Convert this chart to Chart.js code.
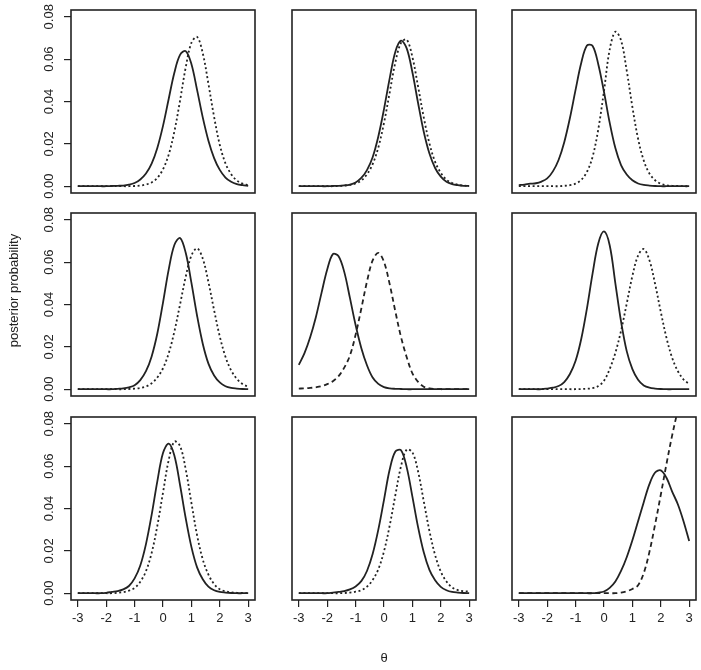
<!DOCTYPE html>
<html>
<head>
<meta charset="utf-8">
<script src="https://cdn.jsdelivr.net/npm/chart.js@4.4.0/dist/chart.umd.min.js"></script>
<style>
  html, body { margin: 0; padding: 0; background: #fff; }
  #wrap { position: relative; width: 701px; height: 670px; overflow: hidden; background: #fff; }
  #wrap .cell { position: absolute; }
</style>
</head>
<body>
<div id="wrap"></div>
<script>
// ========== DATA ==========
// theta grid, step 0.2
const theta = [-3.0, -2.8, -2.6, -2.4, -2.2, -2.0, -1.8, -1.6, -1.4, -1.2, -1.0, -0.8, -0.6, -0.4, -0.2,
  0.0, 0.2, 0.4, 0.6, 0.8, 1.0, 1.2, 1.4, 1.6, 1.8, 2.0, 2.2, 2.4, 2.6, 2.8, 3.0];
const xTicks = [-3, -2, -1, 0, 1, 2, 3];
const yTicks = [0, 0.02, 0.04, 0.06, 0.08];
const yTickLabels = ['0.00', '0.02', '0.04', '0.06', '0.08'];
const xTitle = 'θ';
const yTitle = 'posterior probability';

// row 1
const p11Solid = [0, 0, 0, 0, 0, 0, 0.0001, 0.0002, 0.0003, 0.0007, 0.0015, 0.0032, 0.006, 0.0107, 0.0181,
  0.0285, 0.0412, 0.0536, 0.062, 0.0638, 0.0577, 0.0455, 0.0325, 0.0215, 0.0133, 0.0077, 0.0041, 0.0021, 0.001, 0.0005, 0.0002];
const p11Dotted = [0, 0, 0, 0, 0, 0, 0, 0, 0, 0, 0.0001, 0.0003, 0.0008, 0.0018, 0.0039,
  0.008, 0.0149, 0.0258, 0.0404, 0.0561, 0.0677, 0.0705, 0.0628, 0.0483, 0.0327, 0.0195, 0.0108, 0.0057, 0.0027, 0.0012, 0.0005];
const p12Solid = [0, 0, 0, 0, 0, 0, 0.0001, 0.0002, 0.0004, 0.0008, 0.0018, 0.0039, 0.0076, 0.0137, 0.0235,
  0.0364, 0.0509, 0.0635, 0.0687, 0.0651, 0.0538, 0.0393, 0.0257, 0.0154, 0.0086, 0.0045, 0.0021, 0.001, 0.0005, 0.0002, 0.0001];
const p12Dotted = [0, 0, 0, 0, 0, 0, 0, 0.0001, 0.0003, 0.0006, 0.0013, 0.0027, 0.0056, 0.0104, 0.0183,
  0.0299, 0.0442, 0.0585, 0.0677, 0.0692, 0.061, 0.0471, 0.0325, 0.0202, 0.0115, 0.0063, 0.0031, 0.0015, 0.0007, 0.0003, 0.0001];
const p13Solid = [0.0005, 0.0008, 0.0012, 0.0014, 0.0022, 0.0037, 0.007, 0.0124, 0.0208, 0.0322, 0.0456, 0.0583, 0.0664, 0.0662, 0.0575,
  0.0445, 0.030, 0.018, 0.010, 0.0055, 0.0028, 0.0013, 0.0006, 0.0003, 0.0001, 0, 0, 0, 0, 0, 0];
const p13Dotted = [0, 0, 0, 0, 0, 0, 0, 0, 0.0002, 0.0005, 0.0012, 0.003, 0.0068, 0.014, 0.027,
  0.045, 0.0645, 0.0729, 0.0689, 0.0546, 0.0374, 0.0224, 0.0121, 0.006, 0.0028, 0.0012, 0.0005, 0.0002, 0.0001, 0, 0];

// row 2
const p21Solid = [0, 0, 0, 0, 0, 0, 0, 0.0002, 0.0004, 0.0009, 0.0019, 0.0043, 0.0085, 0.0155, 0.0263,
  0.0409, 0.0565, 0.0681, 0.0714, 0.0644, 0.0503, 0.0347, 0.0215, 0.0121, 0.0065, 0.0032, 0.0014, 0.0006, 0.0003, 0.0001, 0];
const p21Dotted = [0, 0, 0, 0, 0, 0, 0, 0, 0, 0.0001, 0.0003, 0.0006, 0.0013, 0.0028, 0.0055,
  0.0099, 0.0169, 0.0272, 0.040, 0.0531, 0.0631, 0.0665, 0.0617, 0.0506, 0.0373, 0.0249, 0.0153, 0.0089, 0.0049, 0.0025, 0.0012];
const p22Solid = [0.0115, 0.017, 0.0245, 0.034, 0.0455, 0.0565, 0.0638, 0.0628, 0.0554, 0.0431, 0.0303, 0.0195, 0.0113, 0.0055, 0.0025,
  0.001, 0.0004, 0.0002, 0.0001, 0, 0, 0, 0, 0, 0, 0, 0, 0, 0, 0, 0];
const p22Dashed = [0.0003, 0.0004, 0.0006, 0.0009, 0.0014, 0.0024, 0.0038, 0.0062, 0.0102, 0.0159, 0.0257, 0.038, 0.0508, 0.0608, 0.0644,
  0.0601, 0.0496, 0.0367, 0.0246, 0.0151, 0.0075, 0.0035, 0.0012, 0.0004, 0.0001, 0, 0, 0, 0, 0, 0];
const p23Solid = [0, 0, 0, 0, 0, 0.0003, 0.0007, 0.0015, 0.0034, 0.0072, 0.0134, 0.0238, 0.0382, 0.0548, 0.0689,
  0.0745, 0.068, 0.050, 0.032, 0.018, 0.0095, 0.0045, 0.0018, 0.0007, 0.0003, 0.0001, 0, 0, 0, 0, 0];
const p23Dotted = [0, 0, 0, 0, 0, 0, 0, 0, 0, 0, 0, 0.0001, 0.0002, 0.0005, 0.0015,
  0.004, 0.0095, 0.0172, 0.0276, 0.0404, 0.0535, 0.0631, 0.0662, 0.0609, 0.0497, 0.0365, 0.0243, 0.0148, 0.0086, 0.0046, 0.0025];

// row 3
const p31Solid = [0, 0, 0, 0, 0, 0.0002, 0.0006, 0.001, 0.0018, 0.0034, 0.007, 0.0131, 0.0232, 0.037, 0.0528,
  0.0662, 0.0706, 0.065, 0.0511, 0.0354, 0.0219, 0.0122, 0.0066, 0.0031, 0.0014, 0.0006, 0.0003, 0.0001, 0, 0, 0];
const p31Dotted = [0, 0, 0, 0, 0, 0, 0, 0.0002, 0.0005, 0.0012, 0.0025, 0.0054, 0.0104, 0.019, 0.0318,
  0.0475, 0.0628, 0.0716, 0.0695, 0.0585, 0.0427, 0.0274, 0.016, 0.0088, 0.0043, 0.0019, 0.0009, 0.0004, 0.0002, 0.0001, 0];
const p32Solid = [0, 0, 0, 0, 0, 0, 0.0003, 0.0006, 0.001, 0.0018, 0.0032, 0.0057, 0.0105, 0.0185, 0.030,
  0.0441, 0.0584, 0.0669, 0.0675, 0.0594, 0.0456, 0.0312, 0.0193, 0.011, 0.0061, 0.003, 0.0014, 0.0006, 0.0003, 0.0001, 0];
const p32Dotted = [0, 0, 0, 0, 0, 0, 0, 0, 0.0001, 0.0003, 0.0007, 0.0014, 0.0031, 0.0062, 0.0113,
  0.0198, 0.0319, 0.0463, 0.060, 0.0678, 0.0665, 0.0575, 0.0434, 0.0294, 0.018, 0.0102, 0.0055, 0.0027, 0.0015, 0.001, 0.0008];
const p33Solid = [0, 0, 0, 0, 0, 0, 0, 0, 0, 0, 0, 0, 0, 0, 0.0003,
  0.0008, 0.0025, 0.0055, 0.0105, 0.017, 0.025, 0.034, 0.043, 0.0515, 0.057, 0.058, 0.0545, 0.048, 0.042, 0.034, 0.0246];
const p33Dashed = [0, 0, 0, 0, 0, 0, 0, 0, 0, 0, 0, 0, 0, 0, 0,
  0, 0, 0, 0.0003, 0.0009, 0.002, 0.0038, 0.0095, 0.0195, 0.0325, 0.0465, 0.061, 0.0745, 0.0865, 0.098, 0.108];

// ========== LAYOUT ==========
const colX = [71, 292, 512];   // left edge of each plot box
const rowY = [10, 213, 417];   // top edge of each plot box
const boxW = 184, boxH = 183;
const yAxisW = 71, xAxisH = 70;
const pad = 14;                // room round each box so text is not cut
const ink = '#222';
const fontFamily = '"Liberation Sans", Arial, Helvetica, sans-serif';

const panels = [
  [p11Solid, p11Dotted, 'dot'], [p12Solid, p12Dotted, 'dot'], [p13Solid, p13Dotted, 'dot'],
  [p21Solid, p21Dotted, 'dot'], [p22Solid, p22Dashed, 'dash'], [p23Solid, p23Dotted, 'dot'],
  [p31Solid, p31Dotted, 'dot'], [p32Solid, p32Dotted, 'dot'], [p33Solid, p33Dashed, 'dash']
];

// box round the plot region
const boxPlugin = {
  id: 'box',
  afterDatasetsDraw(chart) {
    const a = chart.chartArea, ctx = chart.ctx;
    ctx.save();
    ctx.strokeStyle = ink;
    ctx.lineWidth = 1.6;
    ctx.strokeRect(a.left, a.top, a.right - a.left, a.bottom - a.top);
    ctx.restore();
  }
};

// y tick labels turned 90 degrees, like R's default
const yLabelPlugin = {
  id: 'yLabels',
  afterDraw(chart) {
    const s = chart.scales.y;
    if (!s.options.display) return;
    const ctx = chart.ctx;
    ctx.save();
    ctx.fillStyle = ink;
    ctx.font = '13px ' + fontFamily;
    ctx.textAlign = 'center';
    ctx.textBaseline = 'alphabetic';
    s.ticks.forEach((t, i) => {
      ctx.save();
      ctx.translate(chart.chartArea.left - 18, s.getPixelForValue(t.value));
      ctx.rotate(-Math.PI / 2);
      ctx.fillText(yTickLabels[i], 0, 0);
      ctx.restore();
    });
    ctx.restore();
  }
};

// outer y title, a little above the middle box centre (as R's mtext puts it)
const yTitlePlugin = {
  id: 'yTitle',
  afterDraw(chart, args, opts) {
    if (!opts.show) return;
    const a = chart.chartArea, ctx = chart.ctx;
    ctx.save();
    ctx.fillStyle = ink;
    ctx.font = '13px ' + fontFamily;
    ctx.textAlign = 'center';
    ctx.textBaseline = 'middle';
    ctx.translate(14, (a.top + a.bottom) / 2 - 14);
    ctx.rotate(-Math.PI / 2);
    ctx.fillText(yTitle, 0, 0);
    ctx.restore();
  }
};

const wrap = document.getElementById('wrap');

panels.forEach(([solid, other, style], k) => {
  const r = Math.floor(k / 3), c = k % 3;
  const padL = c === 0 ? 0 : pad;
  const padB = r === 2 ? 0 : pad;
  const left = c === 0 ? 0 : colX[c] - pad;
  const top = rowY[r] - pad;
  const w = (c === 0 ? yAxisW : pad) + boxW + pad;
  const h = pad + boxH + (r === 2 ? xAxisH : pad);

  const cell = document.createElement('div');
  cell.className = 'cell';
  cell.style.left = left + 'px'; cell.style.top = top + 'px';
  cell.style.width = w + 'px'; cell.style.height = h + 'px';
  const cv = document.createElement('canvas');
  cell.appendChild(cv);
  wrap.appendChild(cell);

  const lineSet = (vals, dash) => ({
    data: theta.map((t, i) => ({ x: t, y: vals[i] })),
    borderColor: ink,
    borderWidth: 1.8,
    borderDash: dash || [],
    pointRadius: 0,
    fill: false,
    tension: 0.35
  });

  new Chart(cv.getContext('2d'), {
    type: 'line',
    data: {
      datasets: [
        lineSet(solid, null),
        lineSet(other, style === 'dash' ? [5, 3.5] : [2, 2.6])
      ]
    },
    options: {
      responsive: true,
      maintainAspectRatio: false,
      animation: false,
      devicePixelRatio: 1,
      layout: { padding: { left: padL, top: pad, right: pad, bottom: padB } },
      plugins: {
        legend: { display: false },
        tooltip: { enabled: false },
        yTitle: { show: c === 0 && r === 1 }
      },
      scales: {
        x: {
          type: 'linear',
          min: -3.24, max: 3.24,
          display: r === 2,
          afterBuildTicks: s => { s.ticks = xTicks.map(v => ({ value: v })); },
          afterFit: s => { s.height = s.options.display ? xAxisH : 0; },
          grid: { drawOnChartArea: false, drawTicks: true, tickLength: 7, color: ink, lineWidth: 1.2 },
          border: { display: false },
          ticks: {
            autoSkip: false, maxRotation: 0, minRotation: 0, padding: 4, color: ink,
            font: { family: fontFamily, size: 13 },
            callback: v => String(v)
          },
          title: {
            display: r === 2 && c === 1, text: xTitle, color: ink,
            font: { family: fontFamily, size: 13 },
            padding: { top: 0, bottom: 4 }
          }
        },
        y: {
          type: 'linear',
          min: -0.0032, max: 0.0832,
          display: c === 0,
          afterBuildTicks: s => { s.ticks = yTicks.map(v => ({ value: v })); },
          afterFit: s => { s.width = s.options.display ? yAxisW : 0; },
          grid: { drawOnChartArea: false, drawTicks: true, tickLength: 7, color: ink, lineWidth: 1.2 },
          border: { display: false },
          ticks: { display: false }
        }
      }
    },
    plugins: [boxPlugin, yLabelPlugin, yTitlePlugin]
  });
});
</script>
</body>
</html>
